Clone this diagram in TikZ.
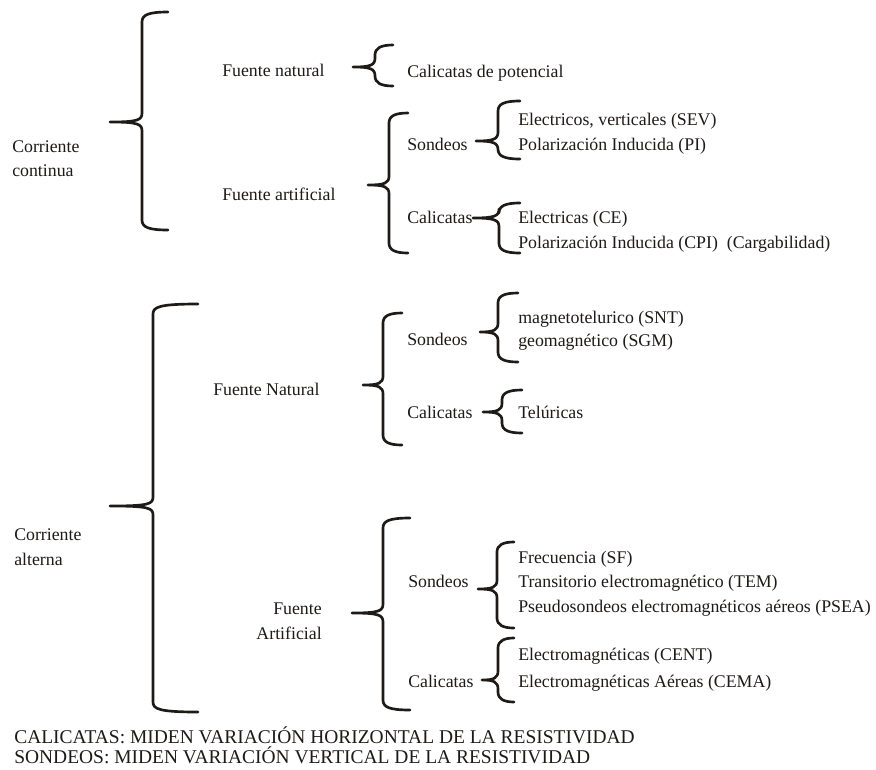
\documentclass[tikz,border=0pt]{standalone}
\usepackage{fontspec}
\setmainfont{Liberation Serif}
\definecolor{ink}{RGB}{30,26,24}
\newcommand{\mybrace}[6]{% xv, top, bottom, tip x, tip y, hook end x
  \draw[bracestroke] (#6,#2) .. controls (#1+6,#2) and (#1,#2+3) .. (#1,#2+10)
    -- (#1,#5-9) .. controls (#1,#5-2) and (#1-4,#5) .. (#4,#5)
    .. controls (#1-4,#5) and (#1,#5+2) .. (#1,#5+9)
    -- (#1,#3-10) .. controls (#1,#3-3) and (#1+6,#3) .. (#6,#3);}
\begin{document}
\begin{tikzpicture}[x=0.75pt,y=-0.75pt,
  lbl/.style={anchor=base west, inner sep=0pt, text=ink, font=\fontsize{13.35}{16}\selectfont},
  lblr/.style={anchor=base east, inner sep=0pt, text=ink, font=\fontsize{13.35}{16}\selectfont},
  foot/.style={anchor=base west, inner sep=0pt, text=ink, font=\fontsize{14.6}{17}\selectfont},
  bracestroke/.style={draw=ink, line width=2pt, line cap=round, line join=round}]
\useasboundingbox[fill=white] (0,0) rectangle (876,769);

% ---------- Corriente continua ----------
\node[lbl] (cc1) at (12,152) {Corriente};
\node[lbl] (cc2) at (12,176) {continua};
\mybrace{142}{12}{230}{110}{122}{168}

\node[lbl] (fn) at (222,76) {Fuente natural};
\mybrace{375}{45}{86}{353}{67}{393}
\node[lbl] (cpot) at (407,77) {Calicatas de potencial};

\node[lbl] (fa) at (222,200) {Fuente artificial};
\mybrace{389}{113}{253}{368}{185}{408}

\node[lbl] (son1) at (407,150) {Sondeos};
\mybrace{498}{101}{159}{476}{141}{520}
\node[lbl] (sev) at (518,125) {Electricos, verticales (SEV)};
\node[lbl] (pi) at (518,150) {Polarización Inducida (PI)};

\node[lbl] (cal1) at (407,223) {Calicatas};
\mybrace{499}{203}{253}{473}{218}{520}
\node[lbl] (ce) at (518,223) {Electricas (CE)};
\node[lbl] (cpi) at (518,248) {Polarización Inducida (CPI)\ \ (Cargabilidad)};

% ---------- Corriente alterna ----------
\node[lbl] (ca1) at (14,540) {Corriente};
\node[lbl] (ca2) at (14,565) {alterna};
\mybrace{153}{304}{712}{110}{506}{198}

\node[lbl] (fnat) at (213,395) {Fuente Natural};
\mybrace{383}{313}{445}{363}{385}{402}

\node[lbl] (son2) at (407,345) {Sondeos};
\mybrace{498}{293}{362}{480}{332}{518}
\node[lbl] (snt) at (518,323) {magnetotelurico (SNT)};
\node[lbl] (sgm) at (518,346) {geomagnético (SGM)};

\node[lbl] (cal2) at (407,418) {Calicatas};
\mybrace{502}{390}{433}{483}{412}{522}
\node[lbl] (tel) at (518,418) {Telúricas};

\node[lblr] (fart1) at (322,614) {Fuente};
\node[lblr] (fart2) at (322,639) {Artificial};
\mybrace{383}{518}{710}{352}{613}{410}

\node[lbl] (son3) at (408,587) {Sondeos};
\mybrace{497}{542}{628}{478}{589}{514}
\node[lbl] (sf) at (518,563) {Frecuencia (SF)};
\node[lbl] (tem) at (518,587) {Transitorio electromagnético (TEM)};
\node[lbl] (psea) at (518,612) {Pseudosondeos electromagnéticos aéreos (PSEA)};

\node[lbl] (cal3) at (408,687) {Calicatas};
\mybrace{498}{638}{702}{482}{680}{514}
\node[lbl] (cent) at (518,660) {Electromagnéticas (CENT)};
\node[lbl] (cema) at (518,687) {Electromagnéticas Aéreas (CEMA)};

% ---------- footer ----------
\node[foot] (n1) at (14,743) {CALICATAS: MIDEN VARIACIÓN HORIZONTAL DE LA RESISTIVIDAD};
\node[foot] (n2) at (14,763) {SONDEOS: MIDEN VARIACIÓN VERTICAL DE LA RESISTIVIDAD};
\end{tikzpicture}
\end{document}
